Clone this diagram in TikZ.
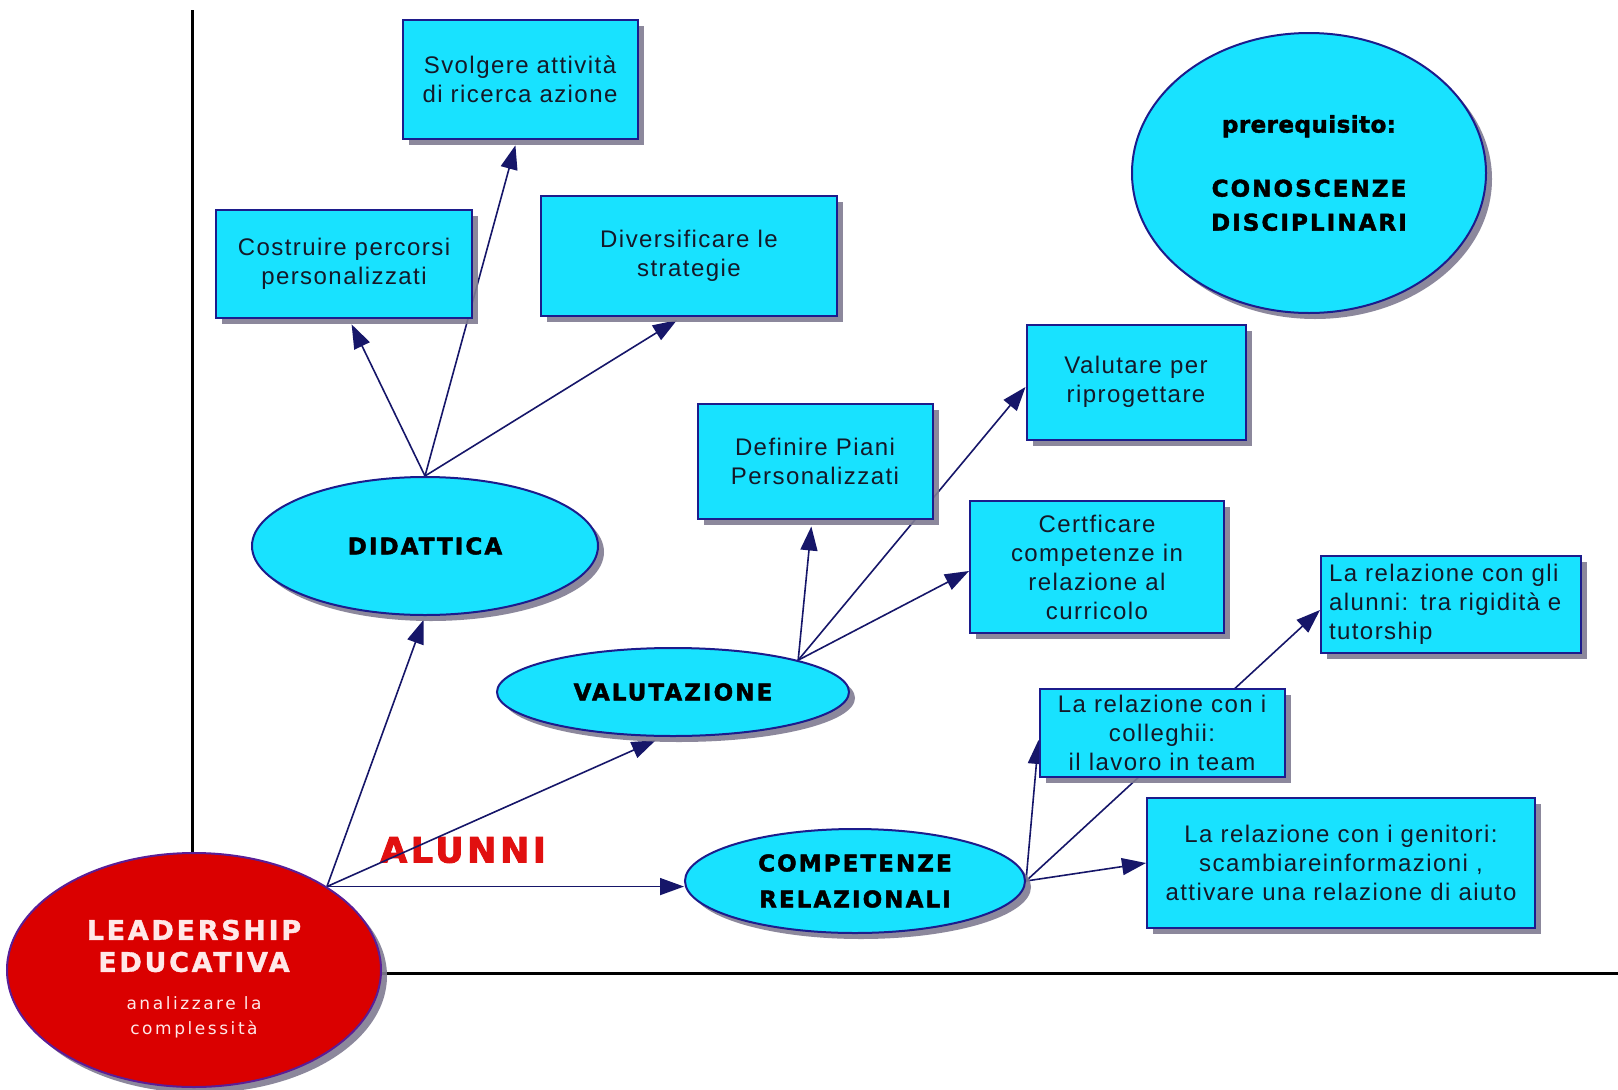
\documentclass[tikz,border=0pt]{standalone}
\usepackage{fontspec}
\setmainfont{Liberation Sans}
\newfontfamily\boxfont{Liberation Sans}[LetterSpace=6]
\newfontfamily\heavyfont{DejaVu Sans}[LetterSpace=9, FakeBold=1.8]
\newfontfamily\prefont{DejaVu Sans}[LetterSpace=2, FakeBold=1.8]
\newfontfamily\leadfont{DejaVu Sans}[LetterSpace=10, FakeBold=1.4]
\newfontfamily\subfont{DejaVu Sans}[LetterSpace=15]
\newfontfamily\alunnifont{DejaVu Sans}[LetterSpace=10, FakeBold=2.5]
\usetikzlibrary{shapes.geometric, arrows.meta, shadows}

\definecolor{cyanfill}{RGB}{24,226,255}
\definecolor{boxline}{RGB}{28,28,140}
\definecolor{shadowcol}{RGB}{128,124,146}
\definecolor{linkcol}{RGB}{22,22,105}
\definecolor{redfill}{RGB}{218,0,0}
\definecolor{redline}{RGB}{90,30,150}
\definecolor{boxtext}{RGB}{20,24,40}
\definecolor{leadtext}{RGB}{255,232,232}
\definecolor{alunnired}{RGB}{225,16,16}

\pgfdeclarelayer{paper}
\pgfdeclarelayer{under}
\pgfsetlayers{paper,under,main}

\tikzset{
  softshadow/.style={drop shadow={shadow xshift=6pt, shadow yshift=-6pt, fill=shadowcol, opacity=0.9}},
  box/.style={rectangle, draw=boxline, line width=2pt, fill=cyanfill, inner sep=0pt,
    align=center, text=boxtext, font=\boxfont\fontsize{24}{29}\selectfont, softshadow},
  oval/.style={ellipse, draw=boxline, line width=2pt, fill=cyanfill, inner sep=0pt,
    align=center, text=black, font=\heavyfont\bfseries\fontsize{23}{36}\selectfont, softshadow},
  redoval/.style={ellipse, draw=redline, line width=2pt, fill=redfill, inner sep=0pt, softshadow},
  link/.style={draw=linkcol, line width=1.6pt, -{Triangle[length=24pt, width=17pt]}},
  axisline/.style={draw=black, line width=3pt}
}

\begin{document}
\begin{tikzpicture}[x=1pt, y=-1pt]
\useasboundingbox (0,0) rectangle (1618,1090);
\begin{pgfonlayer}{paper}
  \fill[white] (0,0) rectangle (1618,1090);
\end{pgfonlayer}

% boxes of the three areas
\node[box, minimum width=235pt, minimum height=119pt] (svo) at (520,79) {Svolgere attività\\di ricerca azione};
\node[box, minimum width=256pt, minimum height=108pt] (cos) at (344,264) {Costruire percorsi\\personalizzati};
\node[box, minimum width=296pt, minimum height=120pt] (div) at (689,256) {Diversificare le\\strategie};
\node[box, minimum width=235pt, minimum height=115pt] (def) at (815,461) {Definire Piani\\Personalizzati};
\node[box, minimum width=219pt, minimum height=115pt] (vpr) at (1136,382) {Valutare per\\riprogettare};
\node[box, minimum width=254pt, minimum height=132pt] (cert) at (1097,567) {Certficare\\competenze in\\relazione al\\curricolo};
\node[box, minimum width=260pt, minimum height=97pt, align=left, text width=244pt] (gli) at (1451,604) {La relazione con gli\\alunni: tra rigidità e\\tutorship};
\node[box, minimum width=245pt, minimum height=88pt] (col) at (1162,733) {La relazione con i\\colleghii:\\il lavoro in team};
\node[box, minimum width=388pt, minimum height=130pt] (gen) at (1341,863) {La relazione con i genitori:\\scambiareinformazioni ,\\attivare una relazione di aiuto};

% area ellipses
\node[oval, minimum width=346pt, minimum height=138pt] (did) at (425,546) {DIDATTICA};
\node[oval, minimum width=352pt, minimum height=88pt] (val) at (673,692) {VALUTAZIONE};
\node[oval, minimum width=340pt, minimum height=104pt] (comp) at (855,881) {COMPETENZE\\RELAZIONALI};
\node[oval, minimum width=354pt, minimum height=280pt, font=\heavyfont\bfseries\fontsize{23}{34}\selectfont] (pre) at (1309,173)
  {{\prefont\bfseries prerequisito:}\\[30pt]CONOSCENZE\\DISCIPLINARI};

% central ellipse
\node[redoval, minimum width=374pt, minimum height=234pt] (lead) at (194,970) {};
\node[align=center, inner sep=0pt, text=leadtext, font=\leadfont\bfseries\fontsize{27}{32}\selectfont] (leadtitle) at (194,946) {LEADERSHIP\\EDUCATIVA};
\node[align=center, inner sep=0pt, text=leadtext, font=\subfont\fontsize{17}{25}\selectfont] (leadsub) at (194,1017) {analizzare la\\complessità};

\begin{pgfonlayer}{under}
  % axes
  \coordinate (axtop) at (192,10);
  \coordinate (axbottom) at (192,860);
  \coordinate (axleft) at (370,973);
  \coordinate (axright) at (1618,973);
  \draw[axisline] (axtop) -- (axbottom);
  \draw[axisline] (axleft) -- (axright);

  \node[text=alunnired, font=\alunnifont\bfseries\fontsize{35}{40}\selectfont] (alunni) at (463,850) {ALUNNI};

  % from the leadership ellipse
  \draw[link, shorten >=4pt] (lead.north east) -- (did.south);
  \draw[link, shorten >=8pt] (lead.north east) -- ([xshift=-10pt]val.south);
  \draw[link] (lead.north east) -- (lead.north east -| comp.west);

  % didattica
  \draw[link, shorten >=6pt] (did.north) -- ([xshift=5pt]cos.south);
  \draw[link, shorten >=6pt] (did.north) -- ([xshift=-3pt]svo.south);
  \draw[link, shorten >=6pt] (did.north) -- ([xshift=-7pt]div.south);

  % valutazione
  \draw[link, shorten >=7pt] (val.north east) -- ([xshift=-3pt]def.south);
  \draw[link] (val.north east) -- ([yshift=-5pt]vpr.west);
  \draw[link] (val.north east) -- ([yshift=-4pt]cert.west);

  % competenze relazionali
  \draw[link] (comp.east) -- ([yshift=-7pt]col.west);
  \draw[link] (comp.east) -- (gen.west);
  \draw[link] (comp.east) -- ([yshift=-6pt]gli.west);
\end{pgfonlayer}
\end{tikzpicture}
\end{document}
